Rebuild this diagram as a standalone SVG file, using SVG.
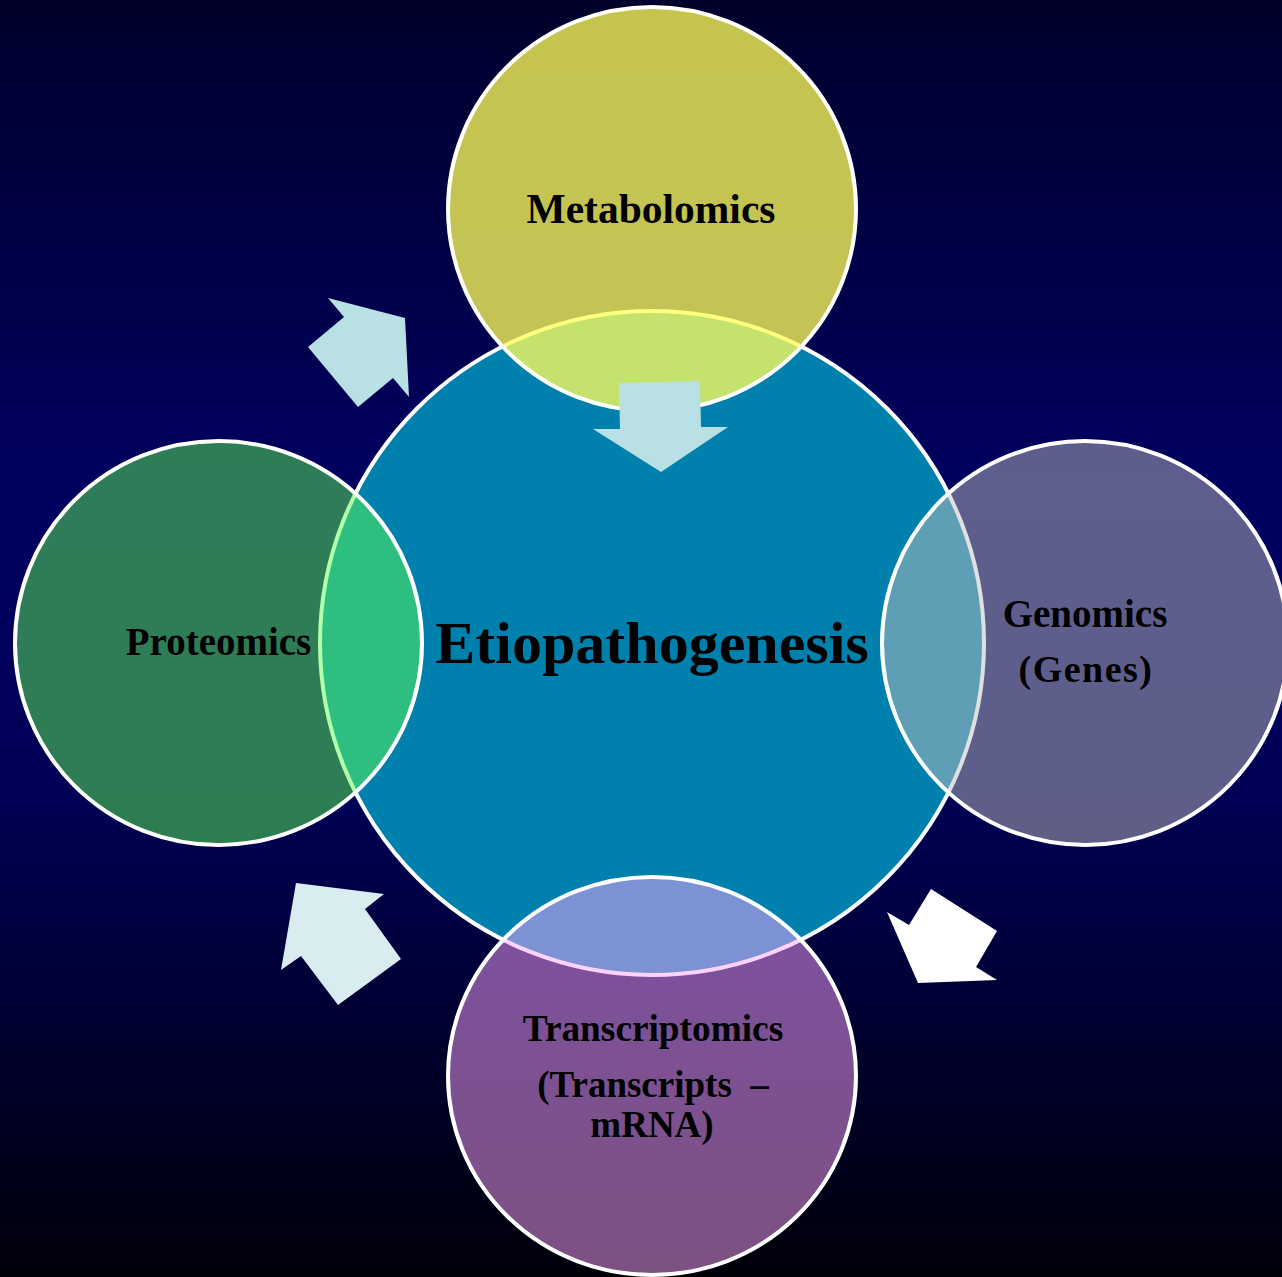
<svg xmlns="http://www.w3.org/2000/svg" width="1282" height="1277" viewBox="0 0 1282 1277">
  <defs>
    <linearGradient id="bg" x1="0" y1="0" x2="0" y2="1">
      <stop offset="0" stop-color="#00002c"/>
      <stop offset="0.38" stop-color="#000060"/>
      <stop offset="0.62" stop-color="#000056"/>
      <stop offset="1" stop-color="#00000a"/>
    </linearGradient>
    <style>
      .ring { stroke: #ffffff; stroke-width: 4; }
      .lbl { font-family: "Liberation Serif", "Times New Roman", serif; font-weight: bold; fill: #000000; text-anchor: middle; white-space: pre; }
    </style>
  </defs>
  <rect x="0" y="0" width="1282" height="1277" fill="url(#bg)"/>

  <g id="etiopathogenesis">
    <circle class="ring" cx="652" cy="643" r="332" fill="#0080ac"/>
    <text class="lbl" x="652" y="663" font-size="60">Etiopathogenesis</text>
  </g>

  <g id="metabolomics">
    <ellipse class="ring" cx="652" cy="209" rx="204" ry="202" fill="#ffff58" fill-opacity="0.77"/>
    <text class="lbl" x="651" y="223" font-size="41.5">Metabolomics</text>
  </g>

  <g id="genomics">
    <ellipse class="ring" cx="1085" cy="643" rx="203" ry="202" fill="#c0c0c0" fill-opacity="0.49"/>
    <text class="lbl" x="1085" y="627" font-size="39">Genomics</text>
    <text class="lbl" x="1086" y="682" font-size="38" letter-spacing="1.5">(Genes)</text>
  </g>

  <g id="transcriptomics">
    <ellipse class="ring" cx="652" cy="1076" rx="204" ry="199" fill="#ffa6ff" fill-opacity="0.49"/>
    <text class="lbl" x="653" y="1041" font-size="37.3">Transcriptomics</text>
    <text class="lbl" x="653" y="1097" font-size="37" xml:space="preserve">(Transcripts  –</text>
    <text class="lbl" x="652" y="1137" font-size="37">mRNA)</text>
  </g>

  <g id="proteomics">
    <ellipse class="ring" cx="218.5" cy="643" rx="203.5" ry="202" fill="#5eff52" fill-opacity="0.49"/>
    <text class="lbl" x="218.5" y="655" font-size="39">Proteomics</text>
  </g>

  <g id="connectors">
    <polygon points="619,383 700,381 701,427 728,427 661,472 593,429 620,429" fill="#b9e0e4"/>
    <polygon points="931,889 997,931 976,967 997,980 918,983 887,912 909,925" fill="#ffffff"/>
    <polygon points="296,883 384,894 365,909 401,959 338,1005 301,956 281,970" fill="#d9ecef"/>
    <polygon points="328,298 405,318 409,397 393,378 358,407 308,347 344,317" fill="#b9e0e4"/>
  </g>
</svg>
